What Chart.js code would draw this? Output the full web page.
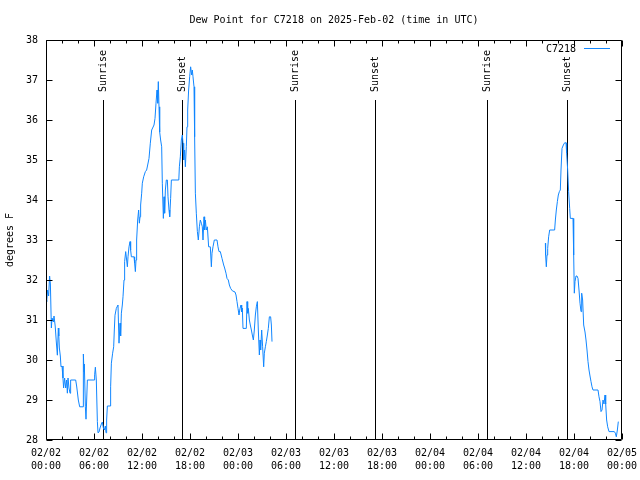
<!DOCTYPE html>
<html>
<head>
<meta charset="utf-8">
<script src="https://cdn.jsdelivr.net/npm/chart.js@4/dist/chart.umd.min.js"></script>
<style>
	html, body { margin: 0; padding: 0; background: #fff; }
</style>
</head>
<body>
<canvas id="chart" width="640" height="480"></canvas>
<script>
const chartTitle = "Dew Point for C7218 on 2025-Feb-02 (time in UTC)"
const station = "C7218"

// hours since 02/02 00:00 UTC; the null value breaks the line where the station had no data
const hours = [
	0, 0.08, 0.2, 0.33, 0.45, 0.55, 0.67, 0.75, 0.92, 1, 1.15, 1.29, 1.42, 1.54, 1.6, 1.67, 1.79, 1.875,
	2, 2.12, 2.2, 2.33, 2.46, 2.58, 2.67, 2.75, 2.875, 3, 3.08, 3.71, 3.83, 3.92, 4.04, 4.21, 4.625, 4.67,
	4.75, 4.79, 4.92, 5, 5.17, 6, 6.08, 6.17, 6.29, 6.42, 6.5, 6.625, 6.75, 6.92, 7.04, 7.17, 7.29, 7.42,
	7.5, 7.58, 7.67, 8, 8.08, 8.17, 8.33, 8.46, 8.54, 8.625, 8.79, 9, 9.125, 9.25, 9.33, 9.42, 9.54, 9.625,
	9.75, 9.83, 9.96, 10.08, 10.17, 10.25, 10.375, 10.5, 10.58, 10.67, 11, 11.08, 11.17, 11.25, 11.33, 11.46,
	11.58, 11.67, 11.75, 11.83, 11.96, 12.04, 12.21, 12.42, 12.58, 12.71, 12.875, 13.04, 13.21, 13.33, 13.5,
	13.625, 13.75, 13.875, 13.96, 14.04, 14.125, 14.21, 14.33, 14.46, 14.54, 14.67, 14.75, 14.83, 14.92,
	15.04, 15.17, 15.25, 15.375, 15.46, 15.58, 15.67, 16.6, 16.67, 16.79, 16.92, 17.04, 17.125, 17.21, 17.33,
	17.42, 17.54, 17.625, 17.71, 17.83, 17.96, 18.08, 18.21, 18.29, 18.375, 18.5, 18.58, 18.67, 18.79, 18.92,
	19.04, 19.17, 19.29, 19.42, 19.54, 19.625, 19.75, 19.83, 19.92, 20.04, 20.17, 20.33, 20.54, 20.67, 20.75,
	20.875, 21.04, 21.375, 21.5, 21.625, 21.79, 22, 22.21, 22.33, 22.5, 22.625, 22.79, 22.92, 23.08, 23.29,
	23.625, 23.75, 23.875, 24, 24.125, 24.25, 24.375, 24.46, 24.54, 24.625, 25.04, 25.125, 25.21, 25.29,
	25.42, 25.54, 25.67, 25.79, 25.92, 26.04, 26.17, 26.29, 26.42, 26.54, 26.67, 26.75, 26.83, 26.96, 27.08,
	27.21, 27.29, 27.42, 27.54, 27.67, 27.79, 27.92, 28.08, 28.17, 28.25,
	45,
	62.42, 62.45, 62.54, 62.625, 62.71, 62.83, 62.96, 63.58, 63.67, 63.79, 63.92, 64.04, 64.17, 64.29, 64.375,
	64.5, 64.67, 64.83, 65, 65.08, 65.21, 65.33, 65.46, 65.54, 65.875, 65.96, 66.04, 66.125, 66.25, 66.375,
	66.5, 66.625, 66.75, 66.875, 66.96, 67.08, 67.21, 67.375, 67.5, 67.625, 67.75, 67.875, 68, 68.125, 68.25,
	68.375, 69, 69.125, 69.25, 69.375, 69.5, 69.625, 69.75, 69.875, 69.96, 70.08, 70.21, 70.375, 71.04, 71.17,
	71.29, 71.42, 71.54,
]
const dewPoint = [
	31.5, 31.45, 31.75, 31.6, 32.1, 31.9, 30.8, 31.05, 30.95, 31.1, 30.85, 30.45, 30.12, 30.8, 30.6, 30.3, 30.1, 29.83,
	29.85, 29.55, 29.3, 29.55, 29.3, 29.5, 29.17, 29.55, 29.3, 29.17, 29.5, 29.5, 29.35, 29.2, 29, 28.83, 28.83, 30.15,
	29.7, 29.9, 28.83, 28.52, 29.5, 29.5, 29.63, 29.82, 29.5, 28.46, 28.18, 28.2, 28.3, 28.4, 28.45, 28.3, 28.25, 28.35,
	28.18, 28.5, 28.85, 28.85, 29.33, 29.92, 30.17, 30.33, 30.75, 31.12, 31.29, 31.375, 30.42, 30.92, 30.6, 31.17, 31.375, 31.58,
	32, 32.46, 32.71, 32.5, 32.33, 32.58, 32.83, 32.96, 32.75, 32.58, 32.58, 32.42, 32.21, 32.5, 33, 33.5,
	33.75, 33.42, 33.58, 33.875, 34.17, 34.42, 34.58, 34.71, 34.75, 34.875, 35.04, 35.42, 35.75, 35.8, 35.875,
	36.04, 36.42, 36.75, 36.42, 36.96, 36.33, 35.7, 35.5, 35.33, 34.42, 33.54, 34.08, 33.67, 34.25,
	34.5, 34.5, 34.08, 33.75, 33.58, 34.04, 34.5, 34.5, 34.83, 35.08, 35.5, 35.625, 35.42, 35, 35.25,
	34.83, 35.33, 35.83, 36.25, 36.75, 37.08, 37.33, 37.125, 37.25, 37.08, 36.83, 35.58, 34.17, 33.67, 33.21,
	33, 33.33, 33.5, 33.42, 33.33, 33, 33.58, 33.25, 33.5, 33.25, 33.33, 32.83, 32.83, 32.33, 32.67,
	32.83, 33, 33, 32.83, 32.71, 32.71, 32.54, 32.375, 32.3, 32.17, 32.04, 32, 31.875, 31.79, 31.73,
	31.7, 31.625, 31.46, 31.29, 31.125, 31.29, 31.375, 31.2, 31.3, 30.79, 30.79, 31.46, 31.17, 31.29,
	31, 30.875, 30.75, 30.625, 30.5, 30.75, 31.125, 31.33, 31.46, 30.75, 30.125, 30.5, 30.25, 30.75, 30.33,
	29.83, 30.17, 30.33, 30.46, 30.625, 30.79, 31.08, 31.08, 30.875, 30.46,
	null,
	32.92, 32.625, 32.33, 32.625, 32.79, 33.08, 33.25, 33.25, 33.5, 33.75, 33.96, 34.125, 34.21, 34.25, 34.75,
	35.29, 35.375, 35.43, 35.43, 35.17, 34.75, 34.21, 33.79, 33.54, 33.54, 32.625, 31.67, 31.96, 32.1, 32.1,
	32.04, 31.75, 31.42, 31.21, 31.67, 31.5, 30.875, 30.7, 30.5, 30.25, 29.96, 29.75, 29.6, 29.46, 29.33,
	29.25, 29.25, 29.08, 28.96, 28.71, 28.75, 29, 28.9, 29.125, 28.9, 28.5, 28.33, 28.21, 28.21, 28.17,
	28.08, 28.25, 28.46,
]

const tickHours = [0, 6, 12, 18, 24, 30, 36, 42, 48, 54, 60, 66, 72]
const tickDates = ["02/02", "02/02", "02/02", "02/02", "02/03", "02/03", "02/03", "02/03", "02/04", "02/04", "02/04", "02/04", "02/05"]
const tickTimes = ["00:00", "06:00", "12:00", "18:00", "00:00", "06:00", "12:00", "18:00", "00:00", "06:00", "12:00", "18:00", "00:00"]

const sunHours = [7.15, 17.05, 31.13, 41.12, 55.12, 65.08]
const sunLabels = ["Sunrise", "Sunset", "Sunrise", "Sunset", "Sunrise", "Sunset"]
const sunLineTop = 36.5

const mono = "'DejaVu Sans Mono', 'Liberation Mono', monospace"
const lineColor = "rgb(16, 134, 255)"

const points = hours.map((h, i) => ({ x: h, y: dewPoint[i] }))

// sunrise / sunset markers, drawn under the data
const sunMarks = {
	id: "sunMarks",
	beforeDatasetsDraw(chart) {
		const { ctx, scales: { x, y } } = chart
		const bottom = Math.round(y.getPixelForValue(28))
		const top = Math.round(y.getPixelForValue(sunLineTop))
		ctx.save()
		ctx.strokeStyle = "#000"
		ctx.lineWidth = 1
		ctx.fillStyle = "#000"
		ctx.font = "10px " + mono
		ctx.textBaseline = "middle"
		ctx.textAlign = "left"
		sunHours.forEach((h, i) => {
			const px = Math.round(x.getPixelForValue(h)) + 0.5
			ctx.beginPath()
			ctx.moveTo(px, bottom)
			ctx.lineTo(px, top)
			ctx.stroke()
			ctx.save()
			ctx.translate(px, top - 8)
			ctx.rotate(-Math.PI / 2)
			ctx.fillText(sunLabels[i], 0, 0)
			ctx.restore()
		})
		ctx.restore()
	},
}

// gnuplot style frame: box, inward ticks mirrored on all sides, legend inside top right
const frame = {
	id: "frame",
	afterDatasetsDraw(chart) {
		const { ctx, chartArea: a, scales: { x, y } } = chart
		const l = Math.round(a.left) + 0.5
		const r = Math.round(a.right) - 0.5
		const t = Math.round(a.top) + 0.5
		const b = Math.round(a.bottom) - 0.5
		ctx.save()
		ctx.strokeStyle = "#000"
		ctx.lineWidth = 1
		ctx.beginPath()
		ctx.rect(l, t, r - l, b - t)
		for (let h = 0; h <= 72; h += 2) {
			const px = Math.round(x.getPixelForValue(h)) + 0.5
			const len = h % 6 == 0 ? 6 : 3
			ctx.moveTo(px, b)
			ctx.lineTo(px, b - len)
			ctx.moveTo(px, t)
			ctx.lineTo(px, t + len)
		}
		for (let v = 28; v <= 38; v++) {
			const py = Math.round(y.getPixelForValue(v)) + 0.5
			ctx.moveTo(l, py)
			ctx.lineTo(l + 6, py)
			ctx.moveTo(r, py)
			ctx.lineTo(r - 6, py)
		}
		ctx.stroke()

		ctx.fillStyle = "#000"
		ctx.font = "10px " + mono
		ctx.textAlign = "right"
		ctx.textBaseline = "middle"
		ctx.fillText(station, a.right - 46, a.top + 9)
		ctx.strokeStyle = lineColor
		ctx.beginPath()
		ctx.moveTo(a.right - 38, a.top + 8.5)
		ctx.lineTo(a.right - 12, a.top + 8.5)
		ctx.stroke()
		ctx.restore()
	},
}

Chart.defaults.font.family = mono
Chart.defaults.font.size = 10
Chart.defaults.color = "#000"

new Chart(document.getElementById("chart"), {
	type: "line",
	data: {
		datasets: [{
			label: station,
			data: points,
			borderColor: lineColor,
			borderWidth: 1,
			pointRadius: 0,
			tension: 0,
			spanGaps: false,
		}],
	},
	options: {
		responsive: false,
		animation: false,
		devicePixelRatio: 1,
		layout: { padding: { left: 0, right: 18, top: 0, bottom: 0 } },
		plugins: {
			legend: { display: false },
			tooltip: { enabled: false },
			title: {
				display: true,
				text: chartTitle,
				fullSize: false,
				font: { size: 10, weight: "normal", family: mono },
				color: "#000",
				padding: { top: 14, bottom: 14 },
			},
		},
		scales: {
			x: {
				type: "linear",
				min: 0,
				max: 72,
				afterBuildTicks: scale => {
					scale.ticks = tickHours.map(v => ({ value: v }))
				},
				afterFit: scale => {
					scale.height = 40
					scale.paddingLeft = 0
					scale.paddingRight = 0
				},
				ticks: {
					autoSkip: false,
					maxRotation: 0,
					padding: 7,
					font: { size: 10, family: mono, lineHeight: 1.3 },
					callback: value => {
						const i = tickHours.indexOf(value)
						return [tickDates[i], tickTimes[i]]
					},
				},
				grid: { display: false, drawTicks: false },
				border: { display: false },
			},
			y: {
				min: 28,
				max: 38,
				afterFit: scale => {
					scale.width = 46
					scale.paddingTop = 0
					scale.paddingBottom = 0
				},
				ticks: {
					stepSize: 1,
					padding: 8,
					font: { size: 10, family: mono },
				},
				grid: { display: false, drawTicks: false },
				border: { display: false },
				title: {
					display: true,
					text: "degrees F",
					font: { size: 10, family: mono },
					padding: { top: 4, bottom: 0 },
				},
			},
		},
	},
	plugins: [sunMarks, frame],
})
</script>
</body>
</html>
